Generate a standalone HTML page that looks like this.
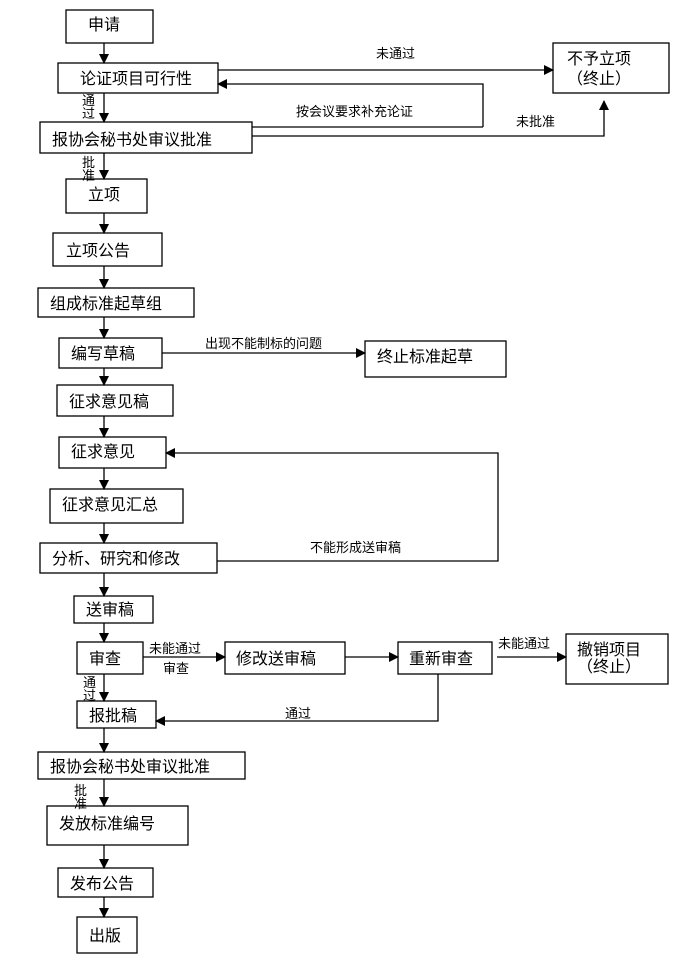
<!DOCTYPE html>
<html><head><meta charset="utf-8"><style>
html,body{margin:0;padding:0;background:#fff;}
svg{display:block;font-family:"Liberation Sans","Noto Sans CJK SC",sans-serif;}
.b{fill:#fff;stroke:#000;stroke-width:1.3;}
.l{stroke:#000;stroke-width:1.3;fill:none;}
.t{font-size:16px;fill:#000;}
.s{font-size:13px;fill:#000;}
</style></head><body>
<svg width="699" height="979" viewBox="0 0 699 979" xmlns="http://www.w3.org/2000/svg">
<defs><marker id="a" markerWidth="10" markerHeight="10" refX="9" refY="5" orient="auto" markerUnits="userSpaceOnUse"><path d="M0,0 L10,5 L0,10 z" fill="#000"/></marker></defs>

<!-- boxes -->
<rect class="b" x="66" y="10" width="87" height="33"/>
<rect class="b" x="58" y="63" width="160" height="30"/>
<rect class="b" x="553" y="43" width="116" height="50"/>
<rect class="b" x="40" y="122" width="212" height="31"/>
<rect class="b" x="66" y="179" width="81" height="34"/>
<rect class="b" x="53" y="233" width="109" height="33"/>
<rect class="b" x="38" y="288" width="156" height="29"/>
<rect class="b" x="59" y="338" width="103" height="30"/>
<rect class="b" x="365" y="341" width="141" height="36"/>
<rect class="b" x="57" y="385" width="116" height="31"/>
<rect class="b" x="59" y="437" width="107" height="31"/>
<rect class="b" x="50" y="489" width="133" height="34"/>
<rect class="b" x="40" y="543" width="177" height="30"/>
<rect class="b" x="74" y="596" width="79" height="27"/>
<rect class="b" x="77" y="642" width="66" height="32"/>
<rect class="b" x="225" y="642" width="120" height="32"/>
<rect class="b" x="398" y="642" width="94" height="32"/>
<rect class="b" x="566" y="634" width="102" height="50"/>
<rect class="b" x="77" y="701" width="79" height="27"/>
<rect class="b" x="38" y="752" width="207" height="27"/>
<rect class="b" x="47" y="806" width="141" height="39"/>
<rect class="b" x="58" y="868" width="95" height="29"/>
<rect class="b" x="77" y="917" width="60" height="36"/>

<!-- main vertical arrows -->
<g class="l" marker-end="url(#a)">
<line x1="104" y1="43" x2="104" y2="63"/>
<line x1="104" y1="93" x2="104" y2="122"/>
<line x1="104" y1="153" x2="104" y2="179"/>
<line x1="104" y1="213" x2="104" y2="233"/>
<line x1="104" y1="266" x2="104" y2="288"/>
<line x1="104" y1="317" x2="104" y2="338"/>
<line x1="104" y1="368" x2="104" y2="385"/>
<line x1="104" y1="416" x2="104" y2="437"/>
<line x1="104" y1="468" x2="104" y2="489"/>
<line x1="104" y1="523" x2="104" y2="543"/>
<line x1="104" y1="573" x2="104" y2="596"/>
<line x1="104" y1="623" x2="104" y2="642"/>
<line x1="104" y1="674" x2="104" y2="701"/>
<line x1="104" y1="728" x2="104" y2="752"/>
<line x1="104" y1="779" x2="104" y2="806"/>
<line x1="104" y1="845" x2="104" y2="868"/>
<line x1="104" y1="897" x2="104" y2="917"/>
<line x1="218" y1="70" x2="553" y2="70"/>
<polyline points="483,127 483,84 218,84" fill="none"/>
<polyline points="252,136 604,136 604,101" fill="none"/>
<line x1="162" y1="353" x2="365" y2="353"/>
<polyline points="217,561 498,561 498,453 166,453" fill="none"/>
<line x1="143" y1="657" x2="225" y2="657"/>
<line x1="345" y1="657" x2="398" y2="657"/>
<line x1="497" y1="657" x2="566" y2="657"/>
<polyline points="438,674 438,721 156,721" fill="none"/>
</g>
<line class="l" x1="252" y1="127" x2="483" y2="127"/>

<!-- box text -->
<text class="t" x="88" y="30">申请</text>
<text class="t" x="80" y="84">论证项目可行性</text>
<text class="t" x="567" y="64">不予立项</text>
<text class="t" x="567" y="84">（终止）</text>
<text class="t" x="52" y="145">报协会秘书处审议批准</text>
<text class="t" x="88" y="200">立项</text>
<text class="t" x="66" y="256">立项公告</text>
<text class="t" x="50" y="309">组成标准起草组</text>
<text class="t" x="71" y="359">编写草稿</text>
<text class="t" x="377" y="362">终止标准起草</text>
<text class="t" x="69" y="407">征求意见稿</text>
<text class="t" x="71" y="457">征求意见</text>
<text class="t" x="62" y="510">征求意见汇总</text>
<text class="t" x="52" y="564">分析、研究和修改</text>
<text class="t" x="86" y="615">送审稿</text>
<text class="t" x="89" y="664">审查</text>
<text class="t" x="236" y="664">修改送审稿</text>
<text class="t" x="409" y="664">重新审查</text>
<text class="t" x="577" y="655">撤销项目</text>
<text class="t" x="577" y="672">（终止）</text>
<text class="t" x="89" y="721">报批稿</text>
<text class="t" x="50" y="772">报协会秘书处审议批准</text>
<text class="t" x="59" y="829">发放标准编号</text>
<text class="t" x="70" y="889">发布公告</text>
<text class="t" x="89" y="941">出版</text>

<!-- labels -->
<text class="s" x="376" y="58">未通过</text>
<text class="s" x="296" y="116">按会议要求补充论证</text>
<text class="s" x="516" y="126">未批准</text>
<text class="s" x="82" y="105">通</text>
<text class="s" x="82" y="118">过</text>
<text class="s" x="82" y="167">批</text>
<text class="s" x="82" y="180">准</text>
<text class="s" x="205" y="348">出现不能制标的问题</text>
<text class="s" x="310" y="552">不能形成送审稿</text>
<text class="s" x="149" y="653">未能通过</text>
<text class="s" x="163" y="673">审查</text>
<text class="s" x="498" y="648">未能通过</text>
<text class="s" x="83" y="687">通</text>
<text class="s" x="83" y="700">过</text>
<text class="s" x="285" y="718">通过</text>
<text class="s" x="74" y="795">批</text>
<text class="s" x="74" y="808">准</text>
</svg>
</body></html>
